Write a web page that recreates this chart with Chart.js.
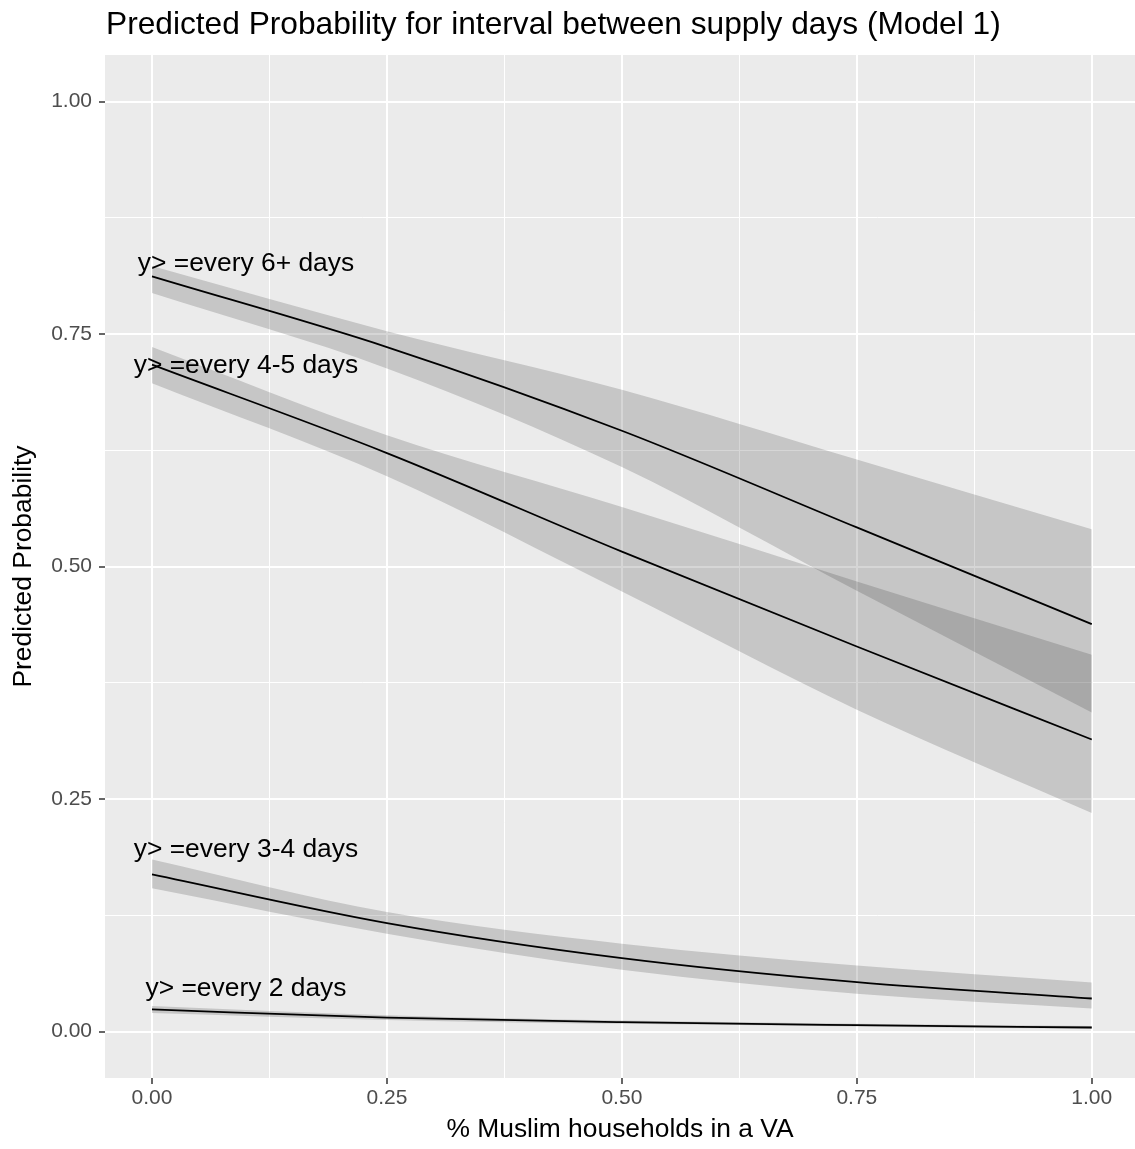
<!DOCTYPE html>
<html>
<head>
<meta charset="utf-8">
<script src="https://cdn.jsdelivr.net/npm/chart.js@4/dist/chart.umd.min.js"></script>
<style>
  html, body { margin: 0; padding: 0; background: #fff; }
  #wrap { width: 1135px; height: 1149px; }
</style>
</head>
<body>
<div id="wrap"><canvas id="prob-chart" width="1135" height="1149"></canvas></div>
<script>
// % Muslim households (x)
const xVals = [0, 0.25, 0.5, 0.75, 1.0];

// predicted probability + ribbon, per threshold
const fit6 = [0.812, 0.736, 0.646, 0.542, 0.438];
const lo6  = [0.794, 0.713, 0.607, 0.474, 0.343];
const hi6  = [0.823, 0.753, 0.690, 0.615, 0.540];

const fit45 = [0.717, 0.622, 0.516, 0.414, 0.314];
const lo45  = [0.697, 0.597, 0.473, 0.346, 0.235];
const hi45  = [0.736, 0.641, 0.564, 0.484, 0.405];

const fit34 = [0.169, 0.1166, 0.0789, 0.0531, 0.0355];
const lo34  = [0.154, 0.105, 0.0664, 0.0406, 0.0248];
const hi34  = [0.185, 0.1284, 0.0944, 0.071, 0.0527];

const fit2 = [0.0237, 0.0150, 0.0100, 0.0068, 0.0043];
const lo2  = [0.0200, 0.0125, 0.0082, 0.0055, 0.0030];
const hi2  = [0.0275, 0.0175, 0.0118, 0.0082, 0.0058];

// text labels (annotate) in data units
const seriesLabels = ['y> =every 6+ days', 'y> =every 4-5 days', 'y> =every 3-4 days', 'y> =every 2 days'];
const labelX = [0.1, 0.1, 0.1, 0.1];
const labelY = [0.83, 0.72, 0.2, 0.05];

const majorTicks = [0, 0.25, 0.5, 0.75, 1.0];
const minorTicks = [0.125, 0.375, 0.625, 0.875];

const FONT = '"Liberation Sans", Arial, Helvetica, sans-serif';
const BAND = 'rgba(51,51,51,0.2)';

const pts = ys => xVals.map((x, i) => ({x: x, y: ys[i]}));
const isMajor = v => majorTicks.some(m => Math.abs(m - v) < 1e-9);

function lineSet(ys) {
    return {
        data: pts(ys),
        borderColor: '#000',
        borderWidth: 1.8,
        pointRadius: 0,
        cubicInterpolationMode: 'monotone',
        fill: false,
    };
}
function lowSet(ys) {
    return {
        data: pts(ys),
        borderWidth: 0,
        borderColor: 'rgba(0,0,0,0)',
        pointRadius: 0,
        cubicInterpolationMode: 'monotone',
        fill: false,
    };
}
function highSet(ys) {
    return {
        data: pts(ys),
        borderWidth: 0,
        borderColor: 'rgba(0,0,0,0)',
        backgroundColor: BAND,
        pointRadius: 0,
        cubicInterpolationMode: 'monotone',
        fill: '-1',
    };
}

// index 0 is drawn last (on top), so lines go first
const datasets = [
    lineSet(fit6), lineSet(fit45), lineSet(fit34), lineSet(fit2),
    lowSet(lo6), highSet(hi6),
    lowSet(lo45), highSet(hi45),
    lowSet(lo34), highSet(hi34),
    lowSet(lo2), highSet(hi2),
];

const panelBg = {
    id: 'panelBg',
    beforeDraw(chart) {
        const {ctx, chartArea: a} = chart;
        ctx.save();
        ctx.fillStyle = '#fff';
        ctx.fillRect(0, 0, chart.width, chart.height);
        ctx.fillStyle = '#EBEBEB';
        ctx.fillRect(a.left, a.top, a.right - a.left, a.bottom - a.top);
        ctx.restore();
    }
};

const textLayer = {
    id: 'textLayer',
    afterDatasetsDraw(chart) {
        const {ctx, scales} = chart;
        ctx.save();
        ctx.fillStyle = '#000';
        ctx.font = '26.4px ' + FONT;
        ctx.textAlign = 'center';
        ctx.textBaseline = 'middle';
        // +4px: ggplot centres on cap height, canvas 'middle' sits a bit higher
        seriesLabels.forEach((t, i) => {
            ctx.fillText(t, scales.x.getPixelForValue(labelX[i]), scales.y.getPixelForValue(labelY[i]) + 4);
        });
        // plot title
        ctx.textAlign = 'left';
        ctx.textBaseline = 'alphabetic';
        ctx.font = '31.7px ' + FONT;
        ctx.fillText('Predicted Probability for interval between supply days (Model 1)', chart.chartArea.left + 1, 34);
        ctx.restore();
    }
};

function axisOpts(min, max, titleText, titlePad) {
    return {
        type: 'linear',
        min: min,
        max: max,
        border: { display: false },
        afterBuildTicks: s => {
            s.ticks = majorTicks.concat(minorTicks).sort((a, b) => a - b).map(v => ({value: v}));
        },
        grid: {
            color: '#fff',
            lineWidth: c => (c.tick && isMajor(c.tick.value)) ? 2 : 1,
            tickColor: c => (c.tick && isMajor(c.tick.value)) ? '#333333' : 'rgba(0,0,0,0)',
            tickWidth: 1.5,
            tickLength: 6,
            drawTicks: true,
        },
        ticks: {
            autoSkip: false,
            maxRotation: 0,
            color: '#4D4D4D',
            font: { family: FONT, size: 21 },
            callback: v => isMajor(v) ? v.toFixed(2) : '',
        },
        title: {
            display: true,
            text: titleText,
            color: '#000',
            font: { family: FONT, size: 26.4 },
            padding: titlePad,
        },
    };
}

const xAxis = axisOpts(-0.05, 1.046, '% Muslim households in a VA', {top: 0, bottom: 3});
xAxis.ticks.padding = 2;
xAxis.afterFit = s => { s.height = 71; };

const yAxis = axisOpts(-0.05, 1.05, 'Predicted Probability', {top: 8, bottom: 0});
yAxis.ticks.padding = 7;
yAxis.afterFit = s => { s.width = 105; };

new Chart(document.getElementById('prob-chart').getContext('2d'), {
    type: 'line',
    data: { datasets: datasets },
    options: {
        responsive: false,
        devicePixelRatio: 1,
        animation: false,
        layout: { padding: { top: 55, right: 0, bottom: 0, left: 0 } },
        scales: { x: xAxis, y: yAxis },
        plugins: {
            legend: { display: false },
            title: { display: false },
            tooltip: { enabled: false },
            filler: { drawTime: 'beforeDatasetDraw' },
        },
    },
    plugins: [panelBg, textLayer],
});
</script>
</body>
</html>
